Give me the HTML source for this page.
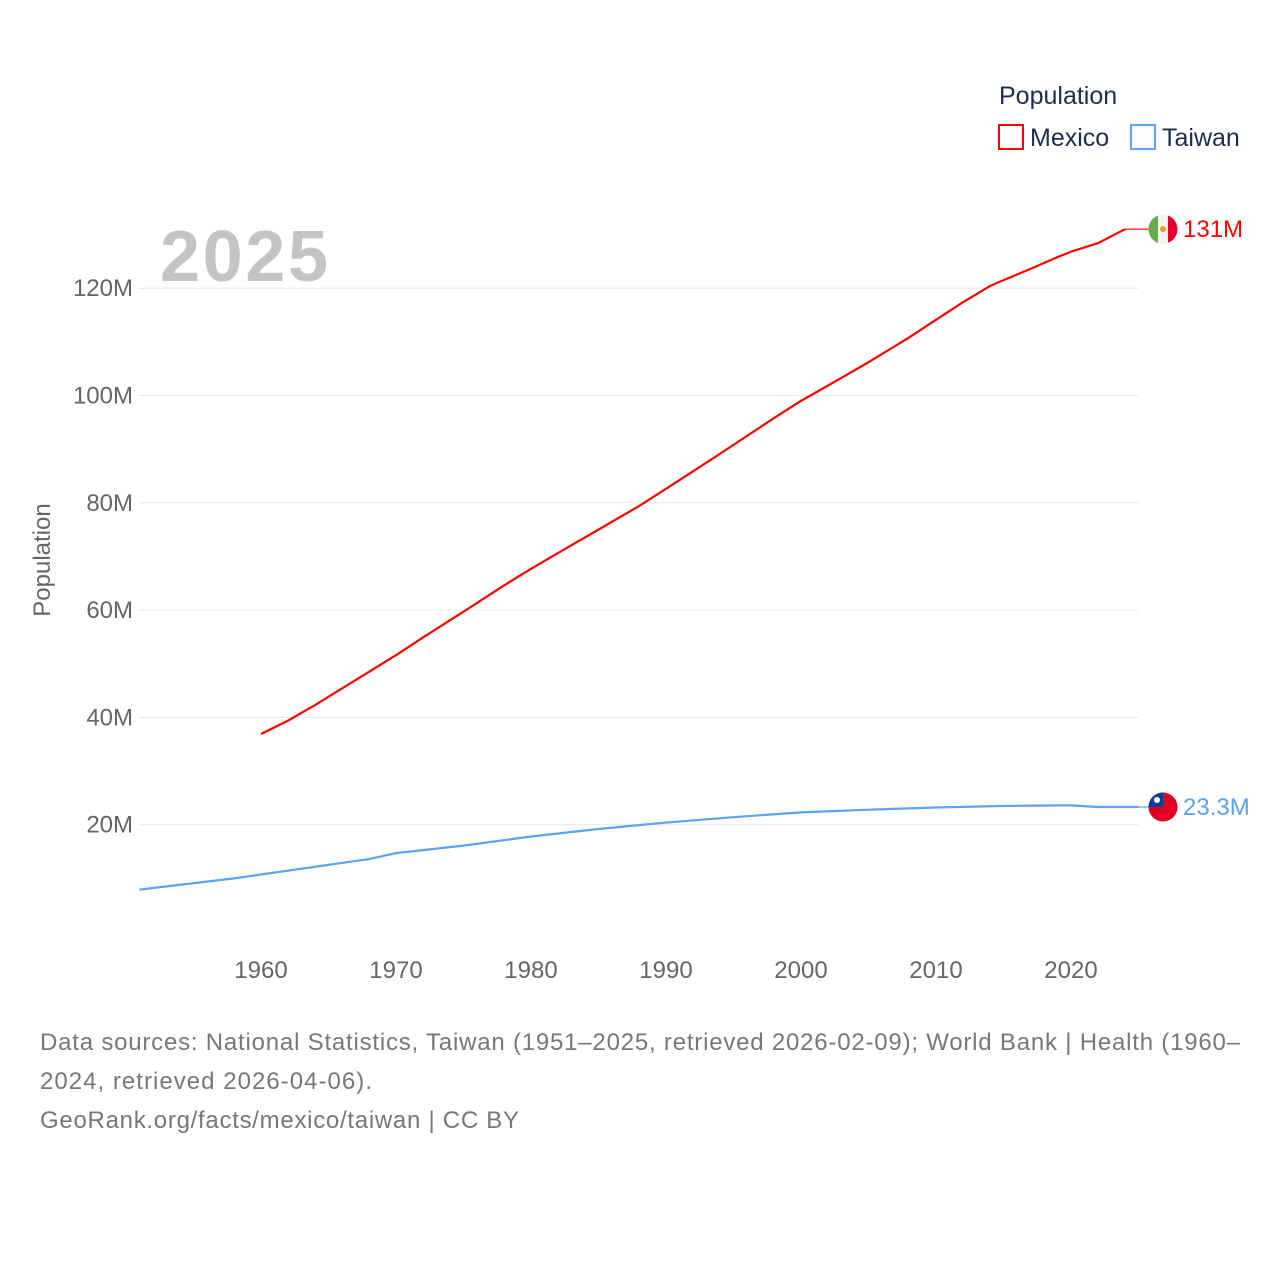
<!DOCTYPE html>
<html><head><meta charset="utf-8">
<style>
body{margin:0;background:#fff;font-family:"Liberation Sans",sans-serif;}
svg text{font-family:"Liberation Sans",sans-serif;}
</style></head>
<body>
<svg id="chart" width="1280" height="1280">
<defs><clipPath id="fc"><circle cx="0" cy="0" r="14.5"/></clipPath></defs>
<text x="999" y="104" font-size="25" fill="#1f2d4d">Population</text>
<g>
<rect x="999" y="125" width="24" height="24" fill="none" stroke="#f00" stroke-width="2"/>
<text x="1030" y="146" font-size="25" fill="#1f2d4d">Mexico</text></g>
<g>
<rect x="1131" y="125" width="24" height="24" fill="none" stroke="#5ba3ec" stroke-width="2"/>
<text x="1162" y="146" font-size="25" fill="#1f2d4d">Taiwan</text></g>
<text x="160" y="281" font-size="72" font-weight="bold" fill="#c4c4c4" textLength="168">2025</text>
<text transform="translate(50,560) rotate(-90)" text-anchor="middle" font-size="24" fill="#666">Population</text>
<g id="grid"></g><g id="yticks"></g><g id="xticks"></g><g id="series"></g>
<text x="40" y="1050" font-size="24" fill="#777" textLength="1200">Data sources: National Statistics, Taiwan (1951–2025, retrieved 2026-02-09); World Bank | Health (1960–</text>
<text x="40" y="1089" font-size="24" fill="#777" textLength="332">2024, retrieved 2026-04-06).</text>
<text x="40" y="1128" font-size="24" fill="#777" textLength="479">GeoRank.org/facts/mexico/taiwan | CC BY</text>
</svg>
<script>
const yTicks=[20,40,60,80,100,120];
const xTicks=[1960,1970,1980,1990,2000,2010,2020];
const mexYears=[1960,1962,1964,1966,1968,1970,1972,1975,1978,1980,1983,1985,1988,1990,1993,1995,1998,2000,2003,2005,2008,2010,2012,2014,2015,2017,2019,2020,2022,2024];
const mexVals=[36.9,39.4,42.3,45.4,48.5,51.6,54.9,59.7,64.6,67.7,72.1,75.0,79.4,82.6,87.5,90.8,95.8,99.0,103.3,106.2,110.8,114.1,117.4,120.4,121.5,123.6,125.8,126.8,128.4,131];
const twYears=[1951,1958,1968,1970,1975,1980,1985,1990,1995,2000,2005,2010,2015,2019,2020,2022,2025];
const twVals=[7.9,10.0,13.6,14.7,16.1,17.8,19.2,20.4,21.4,22.3,22.8,23.2,23.5,23.6,23.6,23.3,23.3];
const x=y=>139.5+(y-1951)*13.5;
const yv=v=>932-v*5.365;
const NS="http://www.w3.org/2000/svg";
function mk(t,a,p){const e=document.createElementNS(NS,t);for(const k in a)e.setAttribute(k,a[k]);p.appendChild(e);return e;}
const grid=document.getElementById('grid'),yt=document.getElementById('yticks'),xt=document.getElementById('xticks'),se=document.getElementById('series');
yTicks.forEach(v=>{
 const l=mk('line',{x1:139,x2:1138,y1:yv(v),y2:yv(v),stroke:'#e6e6e6','stroke-width':1},grid);
 
 
 const t=mk('text',{x:133,y:yv(v)+8,'text-anchor':'end','font-size':24,fill:'#666'},yt);t.textContent=v+'M';
 
 
});
xTicks.forEach(v=>{
 const t=mk('text',{x:x(v),y:978,'text-anchor':'middle','font-size':24,fill:'#666'},xt);t.textContent=v;
 
 
});
function line(ys,vs,c,name){
 const p=mk('polyline',{points:ys.map((y,i)=>x(y)+','+yv(vs[i])).join(' '),fill:'none',stroke:c,'stroke-width':2.2,'stroke-linejoin':'round'},se);
 
 
}
line(mexYears,mexVals,'#f00','mexico-line');
line(twYears,twVals,'#5ba3ec','taiwan-line');
const mEnd=yv(mexVals[mexVals.length-1]), tEnd=yv(twVals[twVals.length-1]);
mk('line',{x1:x(2024),x2:1150,y1:mEnd,y2:mEnd,stroke:'#f00','stroke-width':1.2},se);
mk('line',{x1:x(2025),x2:1150,y1:tEnd,y2:tEnd,stroke:'#5ba3ec','stroke-width':1.2},se);
const fm=mk('g',{transform:`translate(1163,${mEnd})`,'clip-path':'url(#fc)'},se);


mk('rect',{x:-15,y:-15,width:10,height:30,fill:'#6aa84f'},fm);
mk('rect',{x:-5,y:-15,width:10,height:30,fill:'#f4f4f4'},fm);
mk('rect',{x:5,y:-15,width:10,height:30,fill:'#e4002b'},fm);
mk('circle',{cx:0,cy:0,r:3,fill:'#e0a030'},fm);
const ft=mk('g',{transform:`translate(1163,${tEnd})`,'clip-path':'url(#fc)'},se);


mk('rect',{x:-15,y:-15,width:30,height:30,fill:'#e00020'},ft);
mk('rect',{x:-15,y:-15,width:15,height:15,fill:'#0a3aa0'},ft);
mk('circle',{cx:-6,cy:-7,r:3,fill:'#fff'},ft);
const lm=mk('text',{x:1183,y:mEnd+8,'font-size':24,fill:'#f00'},se);lm.textContent='131M';


const lt=mk('text',{x:1183,y:tEnd+8,'font-size':24,fill:'#5ba3ec'},se);lt.textContent='23.3M';


</script>
</body></html>
